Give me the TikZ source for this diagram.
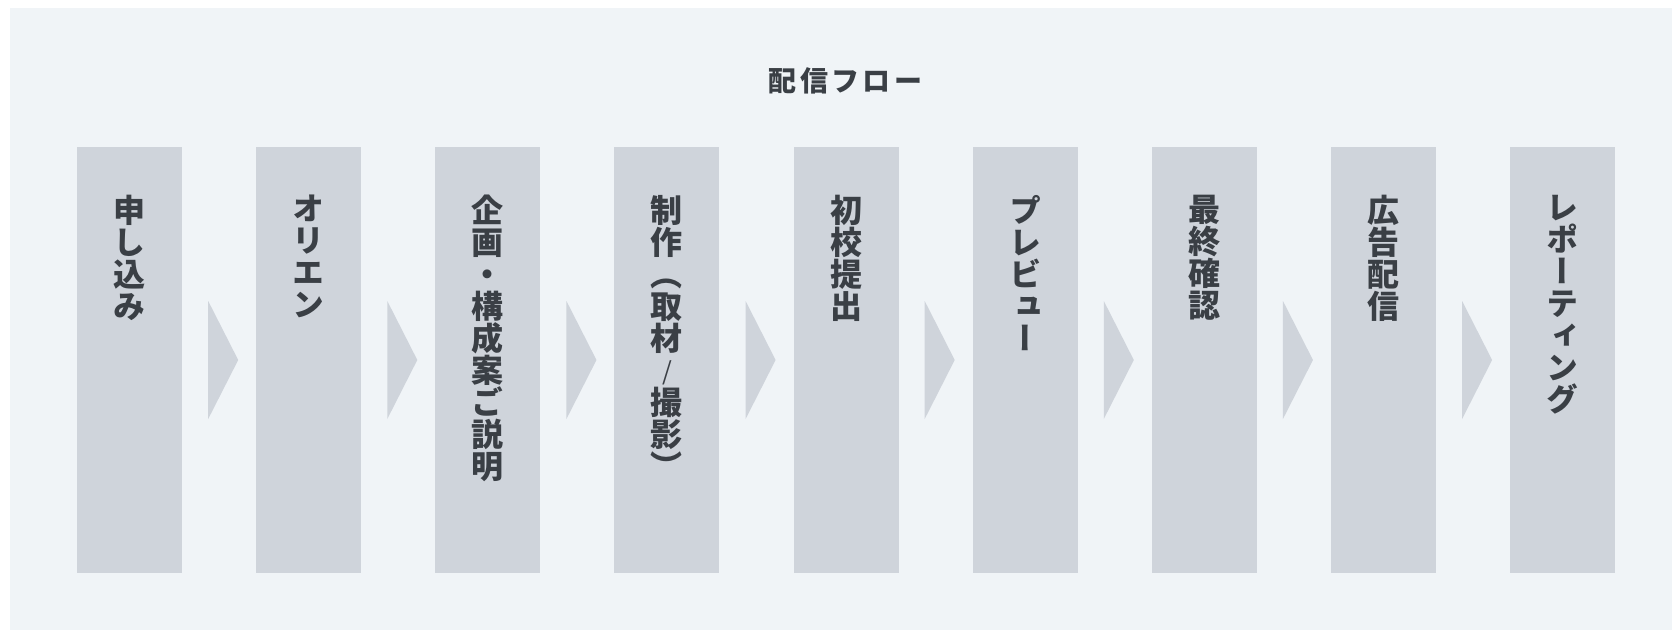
\documentclass[tikz,border=0pt]{standalone}
\usepackage{fontspec}
\setmainfont{Noto Sans CJK JP}
\newfontfamily\tatefont{Noto Sans CJK JP}[RawFeature=+vert]
\newfontfamily\titlefont{Noto Sans CJK JP}[LetterSpace=12]
\usepackage{xcolor}
\usepackage{tikz}
\usetikzlibrary{positioning}
\usetikzlibrary{calc}
\definecolor{panelbg}{HTML}{F0F4F7}
\definecolor{boxgray}{HTML}{CFD4DB}
\definecolor{inkgray}{HTML}{3A3F45}

\begin{document}
\begin{tikzpicture}[x=1pt, y=1pt,
    stepbox/.style={fill=boxgray, minimum width=105, minimum height=426, inner sep=0},
    steptext/.style={text=inkgray, font=\tatefont\bfseries\fontsize{32}{32}\selectfont, align=center, inner sep=0, execute at begin node={\vphantom{国}}},
    chevron/.style={fill=boxgray}]
            \useasboundingbox (0,0) rectangle (1672,630);
            \fill[panelbg] (10,0) rectangle (1672,622);
            \node[text=inkgray, font=\titlefont\bfseries\fontsize{28}{28}\selectfont] (title) at (845.5,549) {配信フロー};
            \node[stepbox] (s1) at (129.5,270) {};
            \node[stepbox] (s2) at (308.6,270) {};
            \node[stepbox] (s3) at (487.75,270) {};
            \node[stepbox] (s4) at (666.9,270) {};
            \node[stepbox] (s5) at (846,270) {};
            \node[stepbox] (s6) at (1025.1,270) {};
            \node[stepbox] (s7) at (1204.25,270) {};
            \node[stepbox] (s8) at (1383.4,270) {};
            \node[stepbox] (s9) at (1562.5,270) {};
            \node[steptext, below=48 of s1.north] (t1) {申\\し\\込\\み};
            \node[steptext, below=48 of s2.north] (t2) {オ\\リ\\エ\\ン};
            \node[steptext, below=48 of s3.north] (t3) {企\\画\\・\\構\\成\\案\\ご\\説\\明};
            \node[steptext, below=48 of s4.north] (t4) {制\\作\\（\\取\\材\\\raisebox{2pt}{\mdseries\fontsize{25}{32}\selectfont /}\\撮\\影\\）};
            \node[steptext, below=48 of s5.north] (t5) {初\\校\\提\\出};
            \node[steptext, below=48 of s6.north] (t6) {プ\\レ\\ビ\\ュ\\ー};
            \node[steptext, below=48 of s7.north] (t7) {最\\終\\確\\認};
            \node[steptext, below=48 of s8.north] (t8) {広\\告\\配\\信};
            \node[steptext, below=48 of s9.north] (t9) {レ\\ポ\\ー\\テ\\ィ\\ン\\グ};
            \fill[chevron] ($(s1.east)+(26,59)$) -- ($(s1.east)+(56,0)$) -- ($(s1.east)+(26,-59)$) -- cycle;
            \fill[chevron] ($(s2.east)+(26,59)$) -- ($(s2.east)+(56,0)$) -- ($(s2.east)+(26,-59)$) -- cycle;
            \fill[chevron] ($(s3.east)+(26,59)$) -- ($(s3.east)+(56,0)$) -- ($(s3.east)+(26,-59)$) -- cycle;
            \fill[chevron] ($(s4.east)+(26,59)$) -- ($(s4.east)+(56,0)$) -- ($(s4.east)+(26,-59)$) -- cycle;
            \fill[chevron] ($(s5.east)+(26,59)$) -- ($(s5.east)+(56,0)$) -- ($(s5.east)+(26,-59)$) -- cycle;
            \fill[chevron] ($(s6.east)+(26,59)$) -- ($(s6.east)+(56,0)$) -- ($(s6.east)+(26,-59)$) -- cycle;
            \fill[chevron] ($(s7.east)+(26,59)$) -- ($(s7.east)+(56,0)$) -- ($(s7.east)+(26,-59)$) -- cycle;
            \fill[chevron] ($(s8.east)+(26,59)$) -- ($(s8.east)+(56,0)$) -- ($(s8.east)+(26,-59)$) -- cycle;
        \end{tikzpicture}
\end{document}
